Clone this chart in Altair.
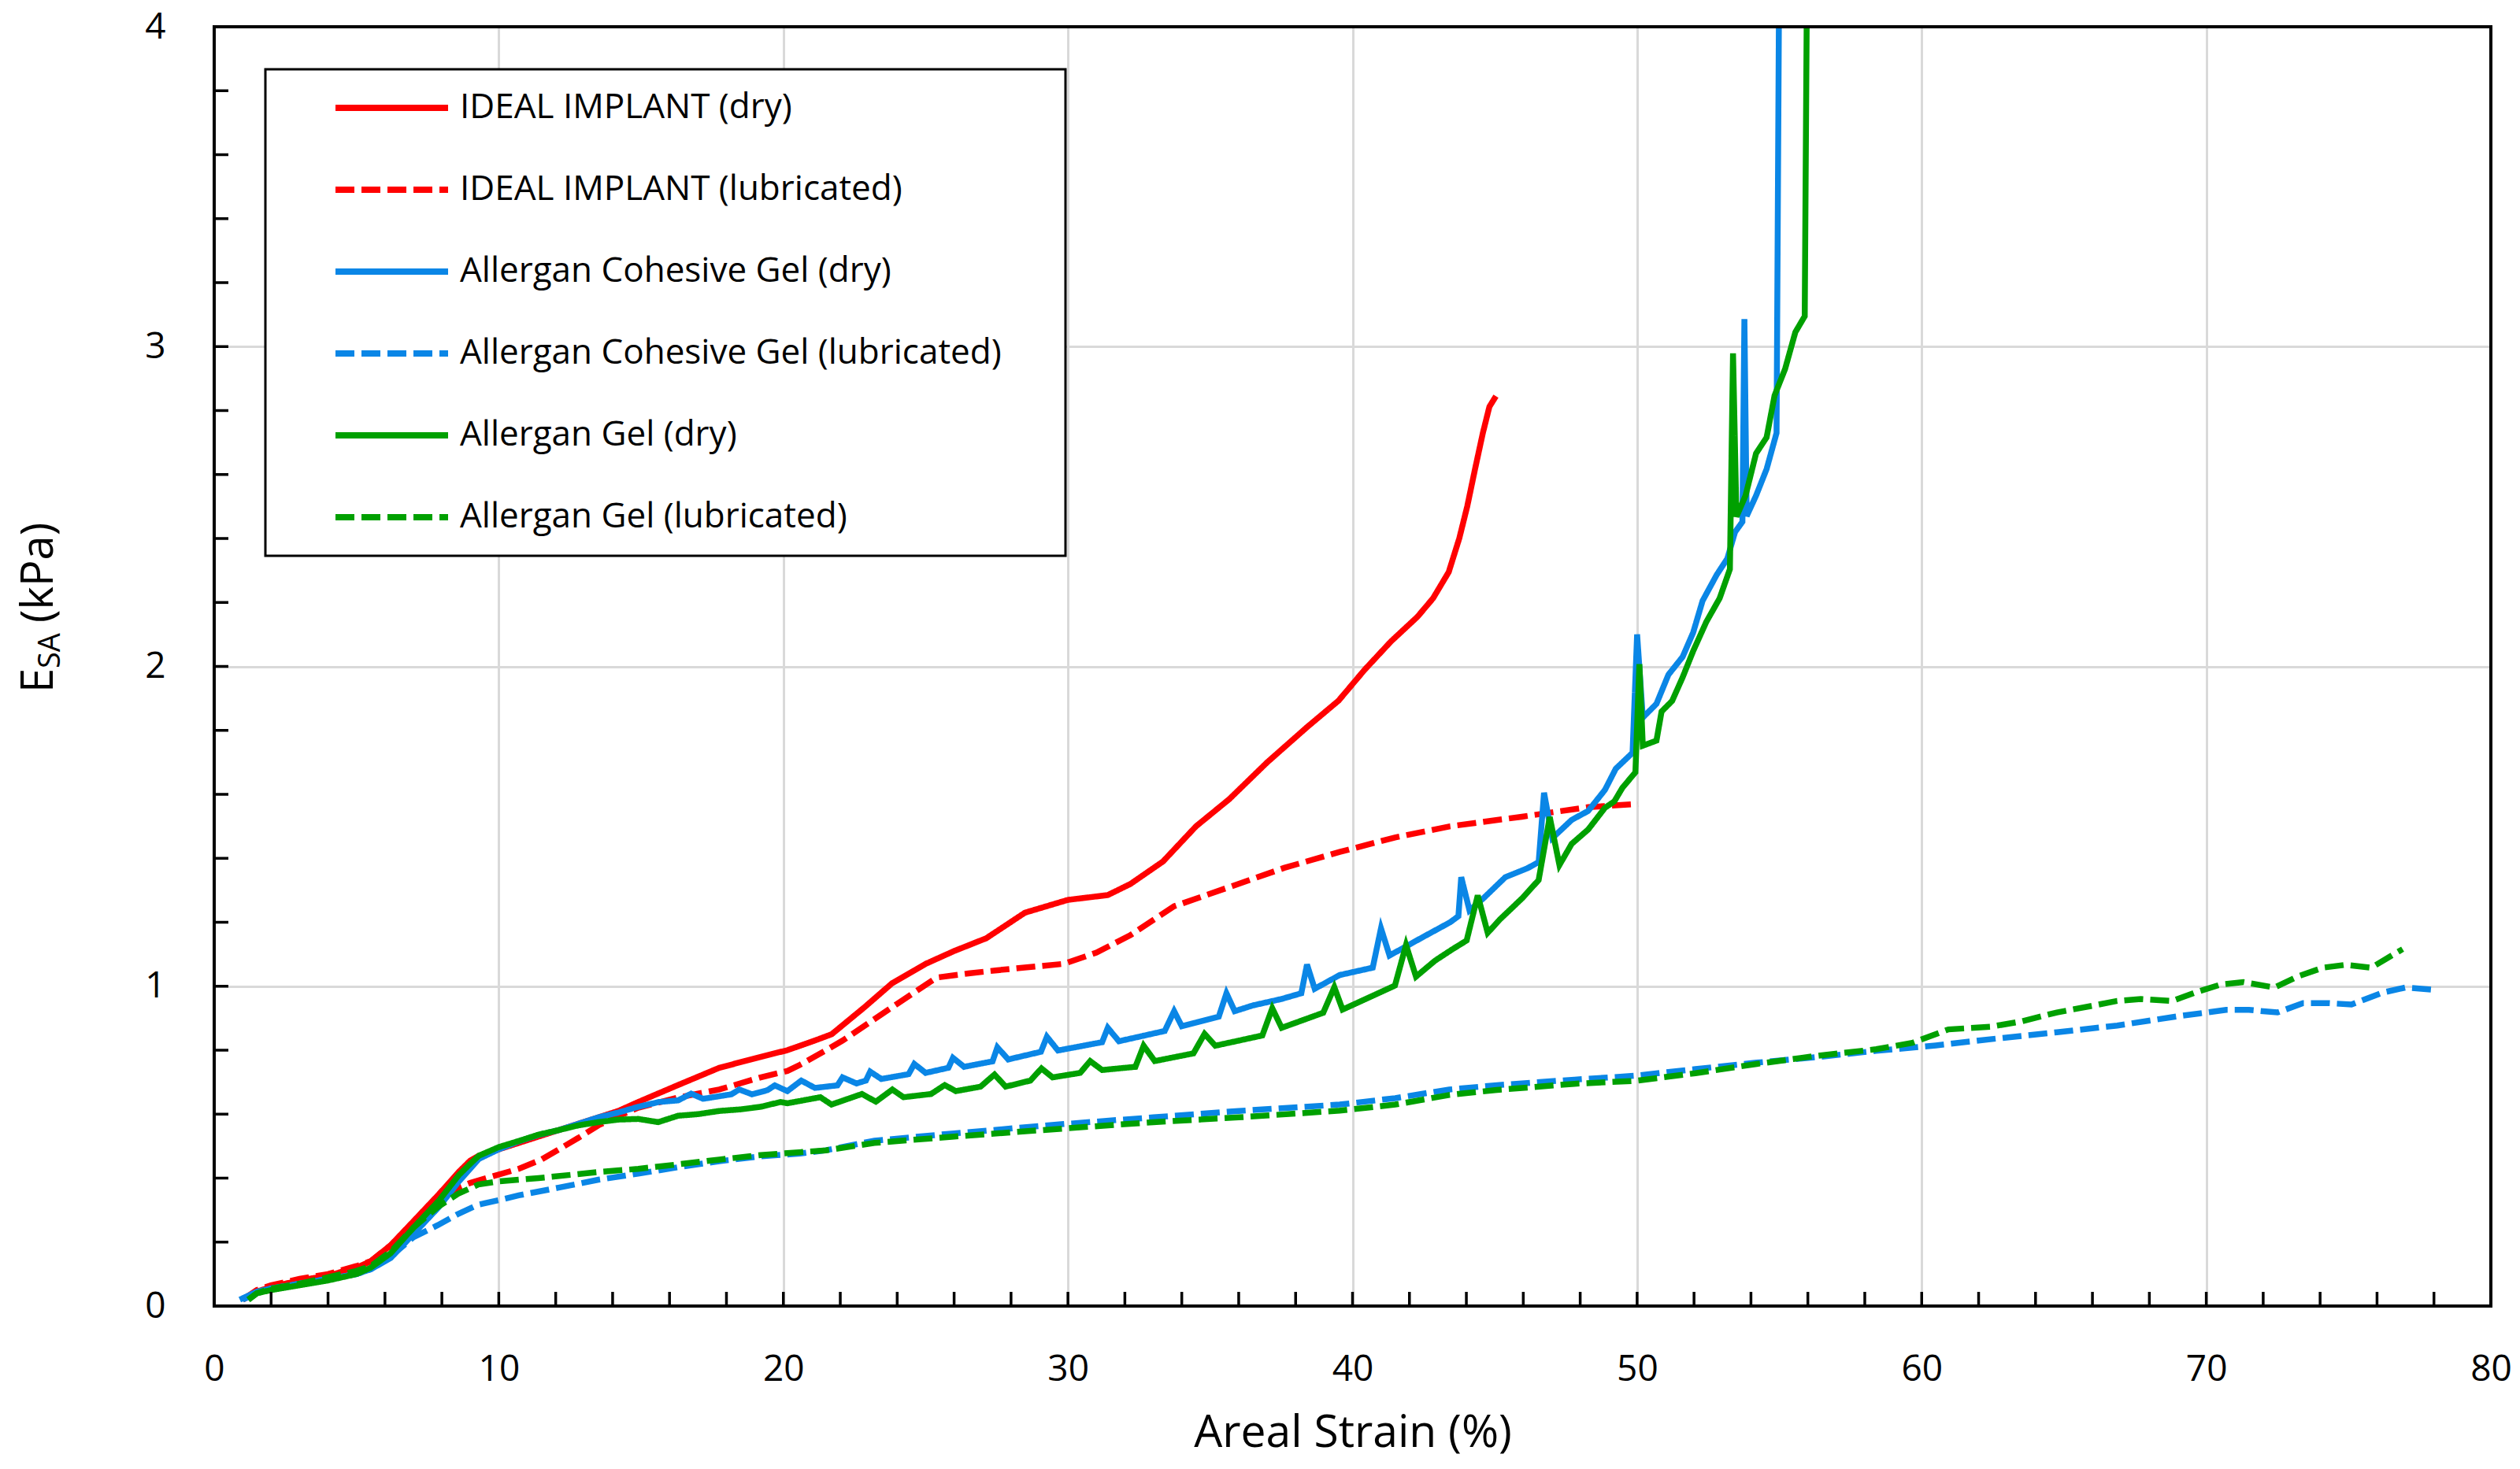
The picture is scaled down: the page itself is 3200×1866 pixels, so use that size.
import altair as alt
import pandas as pd

SERIES = [
    "IDEAL IMPLANT (dry)",
    "IDEAL IMPLANT (lubricated)",
    "Allergan Cohesive Gel (dry)",
    "Allergan Cohesive Gel (lubricated)",
    "Allergan Gel (dry)",
    "Allergan Gel (lubricated)",
]
COLORS = ["#ff0000", "#ff0000", "#0a86e6", "#0a86e6", "#00a000", "#00a000"]
DASHES = [[1, 0], [24, 9], [1, 0], [24, 9], [1, 0], [24, 9]]

X_LABELS = [0, 10, 20, 30, 40, 50, 60, 70, 80]
Y_LABELS = [0, 1, 2, 3, 4]
X_TICKS = [2, 4, 6, 8, 10, 12, 14, 16, 18, 20, 22, 24, 26, 28, 30, 32, 34, 36, 38,
           40, 42, 44, 46, 48, 50, 52, 54, 56, 58, 60, 62, 64, 66, 68, 70, 72, 74, 76, 78]
Y_TICKS = [0.2, 0.4, 0.6, 0.8, 1.0, 1.2, 1.4, 1.6, 1.8, 2.0, 2.2, 2.4, 2.6, 2.8, 3.0,
           3.2, 3.4, 3.6, 3.8]

ideal_dry_x = [1.0, 1.5, 2.0, 3.0, 4.0, 5.0, 5.5, 6.2, 7.0, 7.9, 8.6, 9.0, 9.3, 10.0, 10.7,
               11.4, 12.1, 12.8, 13.5, 14.2, 14.9, 16.3, 17.75, 19.2, 20.14, 21.1, 21.7, 22.86,
               23.83, 25.0, 26.0, 27.13, 28.49, 30.0, 31.4, 32.2, 33.34, 34.5, 35.67, 37.0,
               38.4, 39.51, 40.43, 41.35, 42.28, 42.83, 43.38, 43.75, 44.03, 44.3, 44.58,
               44.81, 45.04]
ideal_dry_y = [0.02, 0.045, 0.06, 0.08, 0.095, 0.12, 0.14, 0.19, 0.265, 0.35, 0.42, 0.455,
               0.47, 0.49, 0.51, 0.53, 0.55, 0.57, 0.59, 0.61, 0.638, 0.691, 0.745, 0.779,
               0.80, 0.83, 0.85, 0.935, 1.01, 1.07, 1.11, 1.15, 1.23, 1.27, 1.285, 1.32,
               1.39, 1.50, 1.585, 1.70, 1.81, 1.893, 1.99, 2.078, 2.155, 2.213, 2.295, 2.40,
               2.50, 2.615, 2.73, 2.812, 2.845]

ideal_lub_x = [1.0, 1.5, 2.0, 3.0, 4.0, 5.0, 5.5, 6.2, 7.0, 7.9, 8.6, 9.0, 9.56, 10.7, 11.5,
               12.8, 13.5, 14.2, 14.9, 16.3, 17.75, 19.2, 20.14, 20.6, 21.5, 22.08, 24.0,
               25.38, 26.5, 27.52, 29.85, 31.0, 32.2, 33.73, 35.67, 37.6, 39.55, 41.49,
               43.43, 45.95, 48.28, 50.03]
ideal_lub_y = [0.02, 0.05, 0.065, 0.085, 0.1, 0.125, 0.14, 0.19, 0.26, 0.33, 0.37, 0.385,
               0.40, 0.429, 0.458, 0.526, 0.565, 0.594, 0.62, 0.652, 0.677, 0.715, 0.735,
               0.755, 0.80, 0.83, 0.945, 1.027, 1.04, 1.05, 1.07, 1.105, 1.16, 1.25, 1.31,
               1.37, 1.42, 1.465, 1.50, 1.53, 1.56, 1.57]

cohesive_dry_x = [0.9, 1.5, 2.0, 3.0, 4.0, 5.0, 5.5, 6.2, 7.0, 7.9, 8.6, 9.0, 9.3, 10.0,
                  10.7, 11.4, 12.1, 12.8, 13.5, 14.2, 14.9, 15.63, 16.3, 16.76, 17.18, 18.17,
                  18.45, 18.9, 19.44, 19.7, 20.14, 20.63, 21.11, 21.9, 22.08, 22.57, 22.9,
                  23.05, 23.44, 24.4, 24.6, 25.0, 25.8, 25.96, 26.35, 27.35, 27.52, 27.9,
                  29.05, 29.26, 29.65, 31.2, 31.4, 31.79, 33.4, 33.73, 34.0, 35.3, 35.57,
                  35.86, 36.5, 37.5, 38.2, 38.4, 38.67, 39.55, 40.71, 41.0, 41.3, 42.46,
                  43.43, 43.72, 43.82, 44.11, 44.6, 45.37, 46.15, 46.54, 46.73, 47.02, 47.7,
                  48.28, 48.87, 49.25, 49.84, 50.0, 50.2, 50.68, 51.1, 51.6, 51.97, 52.3,
                  52.8, 53.17, 53.44, 53.7, 53.77, 53.85, 54.18, 54.55, 54.9, 55.0]
cohesive_dry_y = [0.02, 0.045, 0.055, 0.07, 0.085, 0.10, 0.115, 0.15, 0.225, 0.31, 0.39,
                  0.43, 0.46, 0.49, 0.515, 0.535, 0.55, 0.57, 0.59, 0.605, 0.623, 0.638,
                  0.643, 0.664, 0.648, 0.662, 0.677, 0.662, 0.675, 0.69, 0.672, 0.705, 0.682,
                  0.69, 0.715, 0.696, 0.705, 0.733, 0.710, 0.725, 0.757, 0.729, 0.745, 0.776,
                  0.748, 0.765, 0.809, 0.771, 0.795, 0.842, 0.799, 0.825, 0.870, 0.828, 0.86,
                  0.922, 0.875, 0.905, 0.978, 0.922, 0.94, 0.96, 0.978, 1.068, 0.992, 1.035,
                  1.058, 1.181, 1.096, 1.153, 1.20, 1.219, 1.341, 1.237, 1.275, 1.341, 1.369,
                  1.388, 1.605, 1.463, 1.52, 1.548, 1.614, 1.68, 1.73, 2.10, 1.84, 1.883,
                  1.974, 2.03, 2.106, 2.205, 2.287, 2.337, 2.42, 2.452, 3.086, 2.47, 2.534,
                  2.617, 2.73, 4.3]

cohesive_lub_x = [1.0, 1.5, 2.0, 3.0, 4.0, 5.0, 5.5, 6.2, 7.0, 7.86, 8.57, 9.28, 10.0, 10.7,
                  12.1, 13.5, 14.9, 16.3, 17.75, 19.2, 20.6, 21.5, 23.2, 26.0, 29.85, 33.0,
                  36.0, 39.55, 41.5, 43.4, 45.0, 47.8, 49.93, 52.05, 54.2, 56.28, 58.4, 60.5,
                  62.6, 64.75, 66.87, 69.0, 70.7, 71.5, 72.5, 73.4, 74.3, 75.1, 76.2, 77.0,
                  78.1]
cohesive_lub_y = [0.02, 0.04, 0.055, 0.07, 0.085, 0.10, 0.115, 0.155, 0.215, 0.253, 0.288,
                  0.317, 0.331, 0.346, 0.370, 0.395, 0.414, 0.434, 0.453, 0.468, 0.477, 0.487,
                  0.517, 0.54, 0.569, 0.59, 0.61, 0.63, 0.65, 0.677, 0.69, 0.708, 0.72, 0.741,
                  0.761, 0.778, 0.798, 0.815, 0.836, 0.856, 0.877, 0.906, 0.926, 0.926, 0.918,
                  0.947, 0.947, 0.943, 0.98, 0.996, 0.988]

gel_dry_x = [1.2, 1.5, 2.0, 3.0, 4.0, 5.0, 5.5, 6.2, 7.0, 7.9, 8.6, 9.0, 9.3, 10.0, 10.7,
             11.4, 12.1, 12.8, 13.5, 14.2, 14.9, 15.6, 16.3, 17.0, 17.75, 18.5, 19.2, 19.9,
             20.14, 21.3, 21.69, 22.76, 23.25, 23.83, 24.22, 25.19, 25.67, 26.06, 26.93,
             27.42, 27.81, 28.68, 29.07, 29.46, 30.43, 30.78, 31.2, 32.37, 32.66, 33.05,
             34.41, 34.8, 35.18, 36.83, 37.18, 37.51, 38.97, 39.36, 39.65, 41.49, 41.88,
             42.23, 42.9, 43.5, 44.01, 44.4, 44.75, 45.18, 45.96, 46.54, 46.93, 47.27, 47.7,
             48.28, 48.87, 49.2, 49.48, 49.94, 50.08, 50.2, 50.68, 50.86, 51.23, 51.6, 51.97,
             52.43, 52.9, 53.26, 53.37, 53.49, 53.81, 54.18, 54.55, 54.83, 55.2, 55.56,
             55.89, 55.98]
gel_dry_y = [0.02, 0.04, 0.05, 0.065, 0.08, 0.10, 0.12, 0.165, 0.245, 0.33, 0.41, 0.445,
             0.47, 0.497, 0.516, 0.536, 0.55, 0.565, 0.575, 0.583, 0.585, 0.575, 0.595, 0.60,
             0.61, 0.615, 0.623, 0.638, 0.634, 0.653, 0.630, 0.663, 0.639, 0.677, 0.653,
             0.663, 0.691, 0.672, 0.686, 0.724, 0.686, 0.705, 0.743, 0.715, 0.729, 0.766,
             0.738, 0.748, 0.814, 0.766, 0.790, 0.851, 0.814, 0.846, 0.931, 0.870, 0.917,
             0.997, 0.927, 1.002, 1.129, 1.030, 1.08, 1.115, 1.143, 1.284, 1.167, 1.209,
             1.275, 1.332, 1.529, 1.379, 1.445, 1.49, 1.558, 1.578, 1.62, 1.669, 2.007,
             1.752, 1.768, 1.859, 1.892, 1.966, 2.048, 2.139, 2.213, 2.304, 2.979, 2.468,
             2.534, 2.666, 2.716, 2.847, 2.93, 3.045, 3.095, 4.3]

gel_lub_x = [1.2, 1.5, 2.0, 3.0, 4.0, 5.0, 5.5, 6.2, 7.0, 7.86, 8.57, 9.28, 10.0, 11.4, 13.5,
             14.9, 16.3, 17.75, 19.2, 21.5, 23.2, 26.0, 29.85, 33.0, 36.0, 39.55, 41.5, 43.4,
             45.0, 47.8, 49.93, 52.05, 54.2, 56.28, 58.4, 59.67, 60.94, 62.4, 63.5, 64.75,
             66.0, 66.87, 67.7, 68.8, 69.6, 70.5, 71.3, 72.4, 73.2, 74.1, 74.9, 75.8, 76.4,
             76.9]
gel_lub_y = [0.02, 0.04, 0.055, 0.07, 0.09, 0.11, 0.125, 0.17, 0.245, 0.31, 0.351, 0.38,
             0.39, 0.40, 0.419, 0.429, 0.443, 0.458, 0.472, 0.487, 0.51, 0.53, 0.555, 0.575,
             0.59, 0.611, 0.63, 0.66, 0.675, 0.695, 0.704, 0.728, 0.757, 0.782, 0.803,
             0.823, 0.865, 0.873, 0.89, 0.918, 0.939, 0.954, 0.96, 0.954, 0.98, 1.005,
             1.013, 0.996, 1.03, 1.058, 1.067, 1.058, 1.09, 1.116]

pairs = [
    (ideal_dry_x, ideal_dry_y),
    (ideal_lub_x, ideal_lub_y),
    (cohesive_dry_x, cohesive_dry_y),
    (cohesive_lub_x, cohesive_lub_y),
    (gel_dry_x, gel_dry_y),
    (gel_lub_x, gel_lub_y),
]
rows = []
for name, (xs, ys) in zip(SERIES, pairs):
    for i, (xv, yv) in enumerate(zip(xs, ys)):
        rows.append({"series": name, "strain": xv, "esa": yv, "idx": i})
df = pd.DataFrame(rows)

FONT = "Open Sans"
W, H = 2891, 1625
# legend box (pixels inside the plot area)
LEG_X, LEG_Y, LEG_W, LEG_H = 65, 54, 1016, 618

xscale = alt.Scale(domain=[0, 80], nice=False, zero=False)
yscale = alt.Scale(domain=[0, 4], nice=False, zero=False)

xaxis = alt.Axis(values=X_LABELS, title="Areal Strain (%)", grid=True, gridColor="#d9d9d9",
                 gridWidth=3, domain=False, ticks=False, tickSize=0, labelPadding=58,
                 labelFlush=False, labelOverlap=False,
                 labelFontSize=46, labelFont=FONT, labelColor="#000000",
                 titleFontSize=57, titleFont=FONT, titleFontWeight="normal",
                 titleColor="#000000", titleY=178, titleBaseline="alphabetic")
yaxis = alt.Axis(values=Y_LABELS, title=None, grid=True, gridColor="#d9d9d9", gridWidth=3,
                 domain=False, ticks=False, tickSize=0, labelPadding=62, labelFontSize=46,
                 labelFlush=False, labelOverlap=False,
                 labelFont=FONT, labelColor="#000000")

legend = alt.Legend(title=None, orient="none", legendX=LEG_X, legendY=LEG_Y, padding=24,
                    symbolType="stroke", symbolSize=20449, symbolStrokeWidth=8,
                    clipHeight=50, rowPadding=54, symbolOffset=61, labelOffset=11,
                    labelFontSize=44, labelFont=FONT, labelColor="#000000", labelLimit=0)

lines = alt.Chart(df).mark_line(strokeWidth=7.5, clip=True).encode(
    x=alt.X("strain:Q", scale=xscale, axis=xaxis),
    y=alt.Y("esa:Q", scale=yscale, axis=yaxis),
    color=alt.Color("series:N", scale=alt.Scale(domain=SERIES, range=COLORS),
                    legend=legend, sort=SERIES),
    strokeDash=alt.StrokeDash("series:N", scale=alt.Scale(domain=SERIES, range=DASHES),
                              legend=legend, sort=SERIES),
    order="idx:Q",
)

legend_box = alt.Chart(pd.DataFrame({"a": [0]})).mark_rect(
    fill="#ffffff", stroke="#000000", strokeWidth=3
).encode(
    x=alt.value(LEG_X), x2=alt.value(LEG_X + LEG_W),
    y=alt.value(LEG_Y), y2=alt.value(LEG_Y + LEG_H),
)

frame = alt.Chart(pd.DataFrame({"a": [0]})).mark_rect(
    fillOpacity=0, stroke="#000000", strokeWidth=4
).encode(
    x=alt.datum(0, scale=xscale, axis=xaxis),
    x2=alt.datum(80),
    y=alt.datum(0, scale=yscale, axis=yaxis),
    y2=alt.datum(4),
)

xticks = alt.Chart(pd.DataFrame({"v": X_TICKS})).mark_rule(
    color="#000000", strokeWidth=3.5
).encode(
    x=alt.X("v:Q", scale=xscale, axis=xaxis),
    y=alt.value(H),
    y2=alt.value(H - 18),
)

yticks = alt.Chart(pd.DataFrame({"v": Y_TICKS})).mark_rule(
    color="#000000", strokeWidth=3.5
).encode(
    y=alt.Y("v:Q", scale=yscale, axis=yaxis),
    x=alt.value(0),
    x2=alt.value(18),
)

t_e = alt.Chart(pd.DataFrame({"t": ["E"]})).mark_text(
    angle=270, align="left", baseline="alphabetic", fontSize=56, font=FONT, color="#000000"
).encode(text="t:N", x=alt.value(-205), y=alt.value(846))

t_sub = alt.Chart(pd.DataFrame({"t": ["SA"]})).mark_text(
    angle=270, align="left", baseline="alphabetic", fontSize=38, font=FONT, color="#000000"
).encode(text="t:N", x=alt.value(-196), y=alt.value(815))

t_unit = alt.Chart(pd.DataFrame({"t": ["(kPa)"]})).mark_text(
    angle=270, align="left", baseline="alphabetic", fontSize=56, font=FONT, color="#000000"
).encode(text="t:N", x=alt.value(-205), y=alt.value(757))

chart = alt.layer(lines, legend_box, frame, xticks, yticks, t_e, t_sub, t_unit).properties(
    width=W, height=H,
    padding={"left": 264, "top": 26, "right": 29, "bottom": 199},
    autosize=alt.AutoSizeParams(type="none"),
).configure(font=FONT).configure_view(strokeWidth=0)

chart.save("out.html", embed_options={"renderer": "svg", "actions": False})
